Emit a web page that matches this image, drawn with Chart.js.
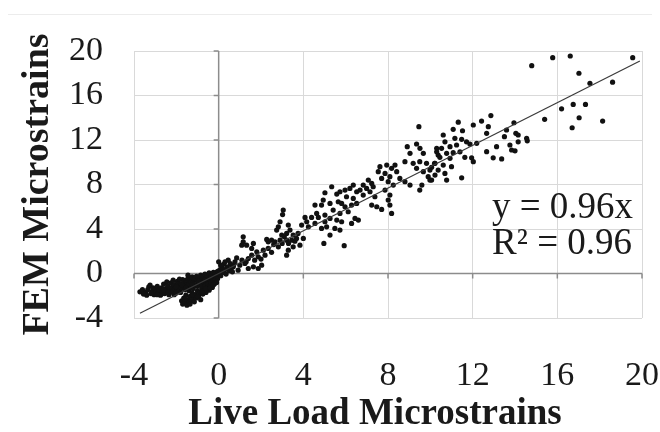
<!DOCTYPE html>
<html>
<head>
<meta charset="utf-8">
<script src="https://cdn.jsdelivr.net/npm/chart.js@4"></script>
<style>
  body { margin: 0; background: #fff; }
  #wrap { position: relative; width: 660px; height: 432px; }
  #topRule { position: absolute; left: 8px; top: 14px; width: 644px; height: 1px; background: #ececec; }
  canvas { position: absolute; left: 0; top: 0; }
</style>
</head>
<body>
<div id="wrap">
  <div id="topRule"></div>
  <canvas id="strainChart" width="660" height="432"></canvas>
</div>
<script>
// axis ticks
const xTicks = [-4, 0, 4, 8, 12, 16, 20];
const yTicks = [-4, 0, 4, 8, 12, 16, 20];
const xTitle = "Live Load Microstrains";
const yTitle = "FEM Microstrains";

// [live load, FEM] pairs
const negativeBand = [
  [-3.72,-1.65],[-3.6,-1.45],[-3.45,-1.7],[-3.4,-1.95],[-3.3,-1.2],[-3.24,-1.05],[-3.15,-1.6],[-3.1,-1.3],
  [-3.05,-1.9],[-3.0,-1.4],[-2.95,-1.65],[-2.9,-1.15],[-2.85,-1.75],[-2.8,-1.5],[-2.75,-1.95],[-2.7,-1.3],
  [-2.7,-1.85],[-2.65,-1.6],[-2.6,-0.95],[-2.55,-1.8],[-2.5,-1.35],[-2.45,-1.55],[-2.45,-0.75],[-2.4,-1.1],
  [-2.35,-1.9],[-2.3,-1.45],[-2.3,-1.7],[-2.25,-0.85],[-2.2,-1.25],[-2.2,-1.55],[-2.15,-1.65],[-2.1,-1.0],
  [-2.1,-1.9],[-2.05,-1.4],[-2.0,-1.75],[-1.95,-0.7],[-1.95,-1.35],[-1.9,-1.15],[-1.9,-0.95],[-1.85,-1.5],
  [-1.8,-0.9],[-1.8,-1.7],[-1.75,-1.3],[-1.7,-0.55],[-1.65,-1.05],[-1.6,-1.45],[-1.6,-0.95],[-1.55,-0.75],
  [-1.5,-1.2],[-1.5,-0.6],[-1.45,-0.45],[-1.4,-0.95],[-1.4,-1.55],[-1.35,-0.6],[-1.3,-1.3],[-1.3,-0.75],
  [-1.25,-0.3],[-1.2,-0.8],[-1.2,-1.35],[-1.15,-0.5],[-1.1,-1.05],[-1.1,-0.4],[-1.05,-0.25],[-1.0,-0.65],
  [-1.0,-1.15],[-0.95,-0.4],[-0.9,-0.9],[-0.9,-0.3],[-0.85,-0.15],[-0.8,-0.55],[-0.8,-1.0],[-0.75,-0.3],
  [-0.7,-0.75],[-0.7,-0.2],[-0.65,-0.05],[-0.6,-0.45],[-0.6,-0.9],[-0.55,-0.2],[-0.5,-0.6],[-0.5,-0.3],
  [-0.45,0.05],[-0.4,-0.35],[-0.4,-0.7],[-0.35,-0.1],[-0.3,-0.5],[-0.3,0.0],[-0.25,0.1],[-0.2,-0.25],
  [-0.2,-0.6],[-0.15,0.0],[-0.1,-0.4],[-0.1,0.1],[-0.05,0.2],[0.0,-0.15],
  [-3.55,-1.85],[-3.35,-1.45],[-3.2,-1.8],[-2.9,-1.9],[-2.6,-1.45],[-2.4,-1.7],[-2.0,-1.2],[-1.75,-1.0],
  [-1.55,-1.3],[-1.25,-1.0],[-0.95,-0.7],[-0.65,-0.6],[-0.35,-0.3],[-2.15,-0.6],[-1.85,-0.5],[-1.45,-0.15]
];

const lowerBranch = [
  [-1.75,-2.45],[-1.7,-2.75],[-1.65,-2.2],[-1.6,-2.6],[-1.55,-1.95],[-1.5,-2.85],[-1.45,-2.35],[-1.4,-2.6],
  [-1.35,-2.05],[-1.3,-2.45],[-1.25,-1.75],[-1.2,-2.25],[-1.15,-2.55],[-1.1,-1.9],[-1.05,-2.2],[-1.0,-1.55],
  [-0.95,-2.0],[-0.9,-1.7],[-0.85,-2.35],[-0.8,-1.35],[-0.75,-1.85],[-0.7,-1.5],[-0.65,-1.15],[-0.6,-1.7],
  [-0.55,-1.3],[-0.5,-0.95],[-0.45,-1.5],[-0.4,-1.1],[-0.35,-0.8],[-0.3,-1.25],[-0.25,-0.7],[-0.2,-0.95],
  [-0.15,-0.55],[-0.1,-0.8],[-0.05,-0.45],
  [-1.6,-2.3],[-1.35,-2.75],[-1.2,-1.95],[-1.0,-2.05],[-0.8,-1.65],[-0.6,-1.35],[-0.4,-1.3],[-0.25,-1.0]
];

const lowRange = [
  [0.05,0.3],[0.1,-0.2],[0.15,0.55],[0.2,0.1],[0.25,0.85],[0.3,0.35],[0.35,-0.05],[0.4,0.6],[0.45,1.2],
  [0.5,0.25],[0.55,0.9],[0.6,0.5],[0.0,1.05],[0.1,0.75],[0.3,1.05],[0.65,0.15],[0.7,0.75],[0.77,1.05],
  [0.69,0.6],[0.92,0.3],[1.0,0.75],[1.24,0.9],[1.4,0.45],[1.64,0.6],[1.87,0.45],[2.03,0.75],[1.4,1.35],
  [1.56,1.65],[1.8,1.95],[1.87,1.5],[2.19,1.65],[2.11,2.1],[2.34,2.25],[2.82,2.4],[1.56,2.25],[1.64,2.7],
  [1.09,2.55],[1.32,2.55],[1.16,2.85],[1.16,3.3],[2.27,3.06],[1.1,1.2],[1.3,1.05],[0.85,1.4],[1.7,1.2],
  [2.0,1.3],[2.5,1.9],[2.6,2.6],[2.34,2.85],[2.5,3.0],[2.66,2.85],[2.9,3.0],[3.21,3.0],[3.45,3.0],
  [3.68,3.15],[4.0,3.15],[3.84,2.55],[3.52,2.4],[3.29,2.1],[3.21,1.65],[2.98,3.45],[3.21,3.6],[3.52,3.45],
  [3.37,3.9],[2.74,3.9],[2.82,4.2],[3.29,4.35],[2.9,4.65],[3.02,5.3],[3.05,5.7],[3.92,4.35],[4.24,4.2],
  [4.16,4.65],[4.08,5.04],[4.39,5.04],[4.71,5.04],[4.55,4.5],[4.86,4.05],[5.02,4.65],[4.63,5.4],[4.55,6.15],
  [3.1,3.3],[3.3,2.7],[3.6,2.9],[3.0,2.7],[3.75,3.6]
];

const midRange = [
  [4.97,2.7],[5.93,2.5],[5.26,3.45],[5.1,4.2],[5.49,4.05],[5.73,3.9],[5.02,5.25],[5.26,4.95],[5.58,4.8],
  [5.81,4.65],[6.44,4.95],[6.6,4.8],[6.28,4.5],[5.41,5.7],[5.73,5.4],[6.12,5.55],[4.94,6.6],[4.86,6.15],
  [5.26,6.3],[5.65,6.45],[5.81,6.3],[5.97,6.0],[6.28,6.15],[6.52,6.3],[5.02,7.26],[5.34,7.8],[5.58,7.14],
  [5.73,7.35],[5.97,7.5],[6.04,6.9],[6.36,6.75],[6.2,7.65],[6.36,7.95],[6.52,7.35],[6.68,7.5],[6.83,7.05],
  [6.83,7.95],[6.99,7.65],[7.15,7.35],[7.07,8.4],[7.23,8.1],[7.3,7.8],[7.38,6.9],[7.23,6.15],[7.47,6.0],
  [7.7,5.76],[8.17,5.4],[8.09,6.15],[8.01,6.6],[8.09,7.05],[7.86,7.5],[7.7,8.55],[8.01,8.25],[8.25,7.95],
  [8.09,8.7],[7.86,9.0],[7.54,9.15],[7.62,9.6],[7.94,9.75],[8.17,9.45],[8.33,9.75],[8.41,9.15],[8.56,8.55],
  [8.8,8.25],[9.04,7.95]
];

const upperRange = [
  [8.8,10.05],[9.19,9.9],[9.5,10.05],[9.82,9.9],[9.35,9.45],[9.67,9.15],[9.98,9.3],[10.2,9.9],[9.9,8.7],
  [9.6,7.95],[9.5,7.5],[9.98,8.4],[9.46,13.2],[8.91,11.4],[9.35,11.64],[9.51,11.25],[9.67,10.8],[9.04,10.8],
  [10.3,11.25],[10.37,10.65],[10.61,12.45],[10.69,11.84],[11.16,12.15],[11.48,12.06],[11.71,11.84],
  [11.87,11.64],[12.19,11.7],[11.24,11.55],[10.93,11.4],[10.53,11.25],[10.3,10.94],[10.77,10.8],
  [11.08,10.86],[11.4,10.94],[10.45,10.44],[10.93,10.35],[11.63,10.44],[11.95,10.4],[12.03,10.05],
  [10.22,9.9],[10.61,9.75],[11.0,9.6],[10.37,9.3],[10.06,9.54],[10.22,8.85],[10.69,9.0],[10.77,8.4],
  [11.48,8.6],[10.06,8.4],[11.32,13.6],[11.08,12.96],[11.52,12.83],[12.03,13.35],[12.42,13.7],[12.86,14.2],
  [12.66,10.95],[12.97,10.4],[13.37,10.3],[13.13,11.4],[13.76,11.55],[13.84,11.1],[14.0,11.03],
  [14.15,11.84],[12.74,13.2],[12.66,12.6],[13.95,13.55],[13.6,12.9],[14.04,12.6],[14.15,12.45],
  [14.58,11.93],[13.5,12.3],[14.55,12.15]
];

const topOutliers = [
  [14.79,18.68],[15.78,19.4],[16.61,19.55],[19.56,19.4],[17.02,18.0],[17.54,17.1],[18.61,17.2],
  [16.2,14.8],[16.75,15.2],[17.33,15.2],[15.4,13.86],[17.03,14.0],[16.7,13.1],[18.14,13.7]
];

// linear trendline y = 0.96x, over the data's x span
const trendX = [-3.72, 19.9];
const trendY = [-3.57, 19.1];
const equationText = ["y = 0.96x", "R\u00b2 = 0.96"];

const serif = "'Liberation Serif', 'Times New Roman', serif";

const allPoints = [].concat(negativeBand, lowerBranch, lowRange, midRange, upperRange, topOutliers)
  .map(p => ({ x: p[0], y: p[1] }));

// dark axis lines through zero with short tick marks, Excel style
const zeroAxes = {
  id: "zeroAxes",
  beforeDatasetsDraw(chart) {
    const { ctx, chartArea, scales: { x, y } } = chart;
    const x0 = x.getPixelForValue(0);
    const y0 = y.getPixelForValue(0);
    ctx.save();
    ctx.strokeStyle = "#8c8c8c";
    ctx.lineWidth = 1.5;
    ctx.beginPath();
    ctx.moveTo(chartArea.left, y0);
    ctx.lineTo(chartArea.right, y0);
    ctx.moveTo(x0, chartArea.top);
    ctx.lineTo(x0, chartArea.bottom);
    xTicks.forEach(v => {
      const px = x.getPixelForValue(v);
      ctx.moveTo(px, y0);
      ctx.lineTo(px, y0 + 5);
    });
    yTicks.forEach(v => {
      const py = y.getPixelForValue(v);
      ctx.moveTo(x0 - 5, py);
      ctx.lineTo(x0, py);
    });
    ctx.stroke();
    ctx.restore();
  }
};

// trendline label plus the x title (the original sits a bit left of the plot centre)
const textLabels = {
  id: "textLabels",
  afterDraw(chart) {
    const { ctx, chartArea } = chart;
    ctx.save();
    ctx.fillStyle = "#1a1a1a";
    ctx.textBaseline = "middle";
    ctx.font = "37px " + serif;
    ctx.textAlign = "right";
    ctx.fillText(equationText[0], chartArea.right - 9, 208);
    ctx.fillText(equationText[1], chartArea.right - 10, 244);
    ctx.font = "bold 37px " + serif;
    ctx.textAlign = "center";
    ctx.fillText(xTitle, 375, 414);
    ctx.restore();
  }
};

new Chart(document.getElementById("strainChart").getContext("2d"), {
  data: {
    datasets: [
      {
        type: "line",
        data: trendX.map((v, i) => ({ x: v, y: trendY[i] })),
        borderColor: "#3a3a3a",
        borderWidth: 1.2,
        pointRadius: 0,
        fill: false
      },
      {
        type: "scatter",
        data: allPoints,
        backgroundColor: "#111",
        borderWidth: 0,
        pointRadius: 2.6
      }
    ]
  },
  options: {
    responsive: false,
    animation: false,
    layout: { padding: { top: 51, right: 18, left: 0, bottom: 0 } },
    plugins: { legend: { display: false }, tooltip: { enabled: false } },
    scales: {
      x: {
        type: "linear",
        min: -4,
        max: 20,
        afterBuildTicks: s => { s.ticks = xTicks.map(v => ({ value: v })); },
        afterFit: s => { s.height = 114; s.paddingLeft = 0; s.paddingRight = 0; },
        border: { display: false },
        grid: { color: "#d9d9d9", lineWidth: 1, drawTicks: false },
        ticks: { padding: 38, color: "#1a1a1a", font: { family: serif, size: 34 } }
      },
      y: {
        type: "linear",
        min: -4,
        max: 20,
        afterBuildTicks: s => { s.ticks = yTicks.map(v => ({ value: v })); },
        afterFit: s => { s.width = 134; s.paddingTop = 0; s.paddingBottom = 0; },
        border: { display: false },
        grid: { color: "#d9d9d9", lineWidth: 1, drawTicks: false },
        ticks: { padding: 31, color: "#1a1a1a", font: { family: serif, size: 34 } },
        title: {
          display: true,
          text: yTitle,
          color: "#1a1a1a",
          font: { family: serif, size: 38, weight: "bold", lineHeight: 1 },
          padding: { top: 19, bottom: 0 }
        }
      }
    }
  },
  plugins: [zeroAxes, textLabels]
});
</script>
</body>
</html>
